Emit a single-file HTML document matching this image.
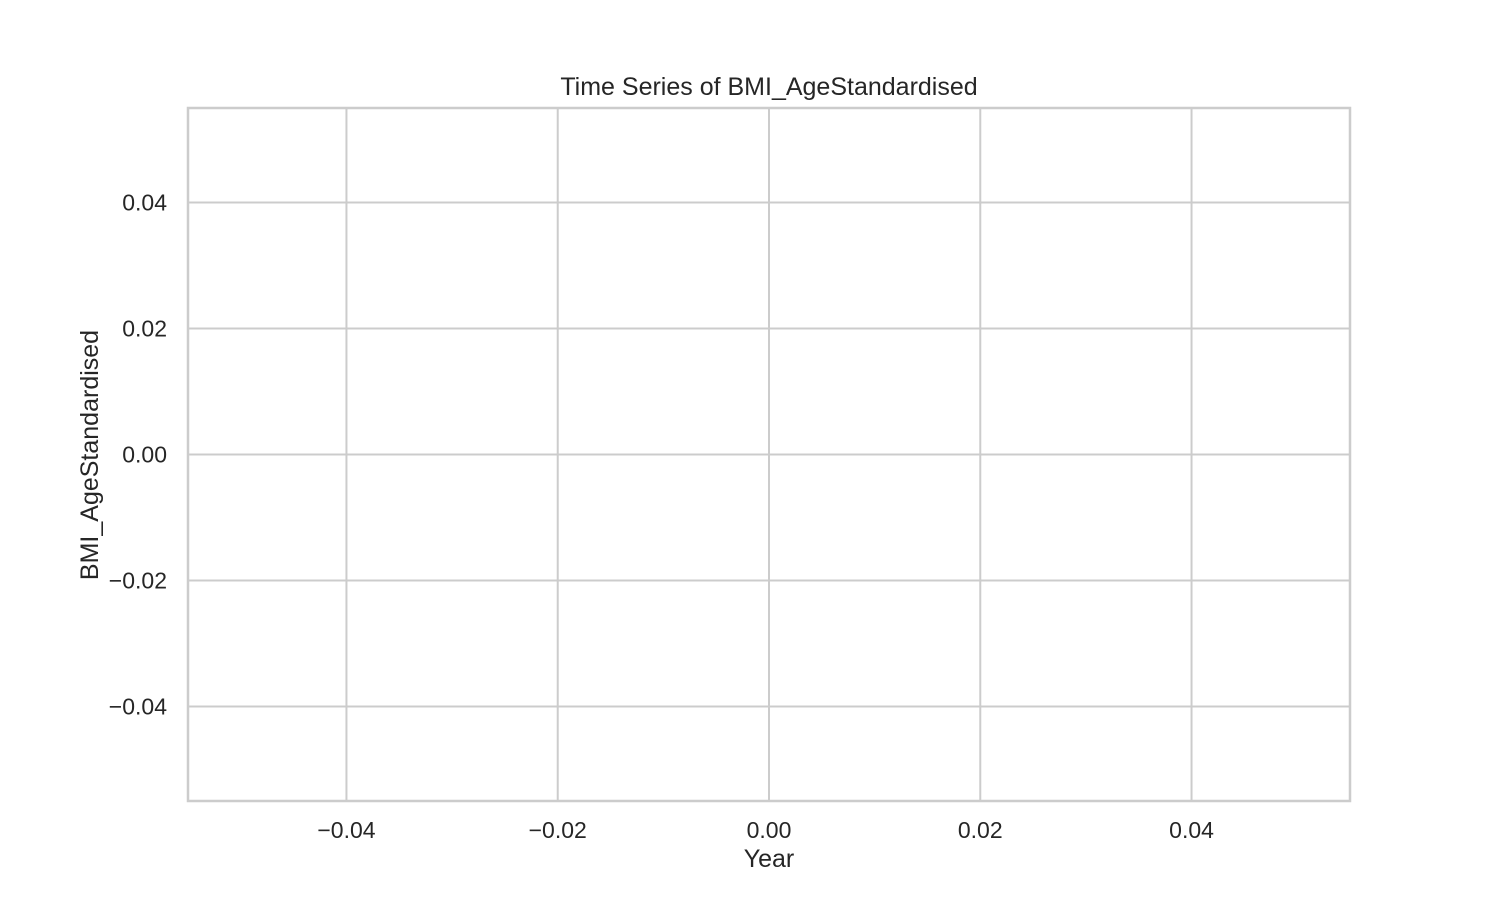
<!DOCTYPE html>
<html><head><meta charset="utf-8">
<style>
html,body{margin:0;padding:0;background:#fff;}
svg text{font-family:"Liberation Sans","DejaVu Sans",sans-serif;fill:#262626;}
</style></head>
<body>
<svg id="chart" width="1500" height="900" xmlns="http://www.w3.org/2000/svg">
<rect x="0" y="0" width="1500" height="900" fill="#fff"/>
<g id="grid"></g>
<g id="marks"></g>
<rect x="188" y="108" width="1162" height="693" fill="none" stroke="#cccccc" stroke-width="2.5"/>
<g id="ticks"></g>
<text x="769" y="95" font-size="25" text-anchor="middle">Time Series of BMI_AgeStandardised</text>
<text x="769" y="867" font-size="25" text-anchor="middle">Year</text>
<text transform="translate(98,455) rotate(-90)" font-size="25" text-anchor="middle">BMI_AgeStandardised</text>
</svg>
<script>
const years = [];
const bmiValues = [];
const xTicks = [-0.04, -0.02, 0.00, 0.02, 0.04];
const yTicks = [-0.04, -0.02, 0.00, 0.02, 0.04];
const xDomain = [-0.055, 0.055];
const yDomain = [-0.055, 0.055];

const L = 188, R = 1350, T = 108, B = 801;
function xs(v){ return L + (v - xDomain[0]) / (xDomain[1] - xDomain[0]) * (R - L); }
function ys(v){ return B - (v - yDomain[0]) / (yDomain[1] - yDomain[0]) * (B - T); }
const NS = "http://www.w3.org/2000/svg";
const grid = document.getElementById('grid');
const ticks = document.getElementById('ticks');
function fmt(v){ return (v < 0 ? '\u2212' : '') + Math.abs(v).toFixed(2); }

xTicks.forEach(v => {
  const l = document.createElementNS(NS, 'line');
  l.setAttribute('x1', xs(v)); l.setAttribute('x2', xs(v));
  l.setAttribute('y1', T); l.setAttribute('y2', B);
  l.setAttribute('stroke', '#cccccc'); l.setAttribute('stroke-width', '2');
  
  
  grid.appendChild(l);
  const t = document.createElementNS(NS, 'text');
  t.setAttribute('x', xs(v)); t.setAttribute('y', 838);
  t.setAttribute('font-size', '23'); t.setAttribute('text-anchor', 'middle');
  t.textContent = fmt(v);
  
  
  ticks.appendChild(t);
});
yTicks.forEach(v => {
  const l = document.createElementNS(NS, 'line');
  l.setAttribute('x1', L); l.setAttribute('x2', R);
  l.setAttribute('y1', ys(v)); l.setAttribute('y2', ys(v));
  l.setAttribute('stroke', '#cccccc'); l.setAttribute('stroke-width', '2');
  
  
  grid.appendChild(l);
  const t = document.createElementNS(NS, 'text');
  t.setAttribute('x', 167); t.setAttribute('y', ys(v) + 8);
  t.setAttribute('font-size', '23'); t.setAttribute('text-anchor', 'end');
  t.textContent = fmt(v);
  
  
  ticks.appendChild(t);
});
if (years.length) {
  const p = document.createElementNS(NS, 'polyline');
  p.setAttribute('points', years.map((y, i) => xs(y) + ',' + ys(bmiValues[i])).join(' '));
  p.setAttribute('fill', 'none'); p.setAttribute('stroke', '#4c72b0'); p.setAttribute('stroke-width', '2.5');
  
  
  document.getElementById('marks').appendChild(p);
}
</script>
</body></html>
